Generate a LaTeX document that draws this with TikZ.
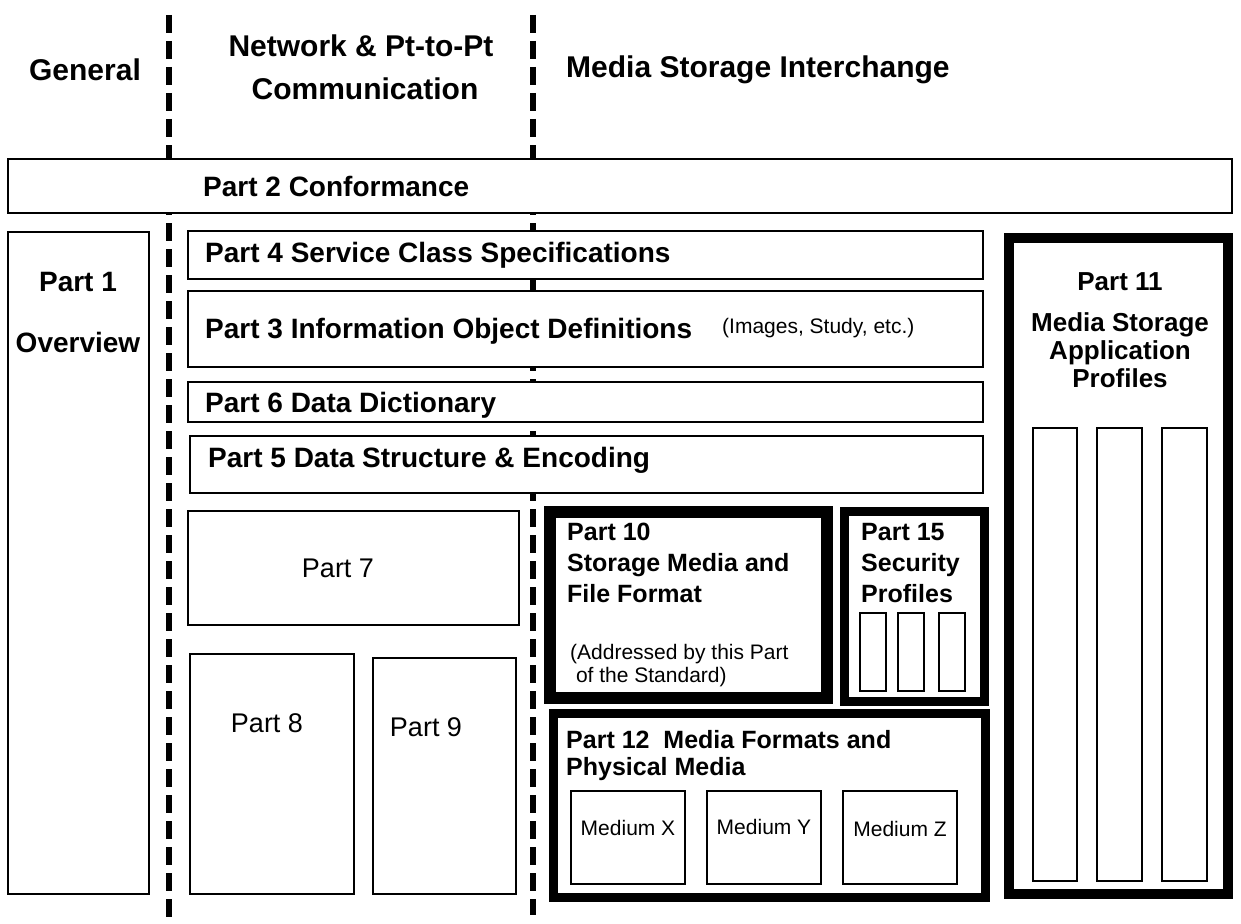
\documentclass[tikz,border=0pt]{standalone}
\usepackage{fontspec}
\setmainfont{Liberation Sans}
\begin{document}
\begin{tikzpicture}[x=1pt,y=-1pt,
  thinbox/.style={draw=black, fill=white, line width=1.6pt, inner sep=0pt, anchor=center},
  thickbox/.style={draw=black, fill=white, inner sep=0pt, anchor=center},
  divider/.style={line width=6pt, dash pattern=on 18pt off 8pt},
  hdr/.style={font=\bfseries\fontsize{30}{36}\selectfont, inner sep=0pt},
  lbl/.style={font=\bfseries\fontsize{28}{33}\selectfont, inner sep=0pt},
  plain/.style={font=\fontsize{27}{32}\selectfont, inner sep=0pt},
  small/.style={font=\fontsize{21}{23}\selectfont, inner sep=0pt}
]
\useasboundingbox (0,0) rectangle (1241,923);
\fill[white] (0,0) rectangle (1241,923);

% column dividers
\coordinate (d1t) at (169,15);
\coordinate (d1b) at (169,923);
\coordinate (d2t) at (533,15);
\coordinate (d2b) at (533,915);
\draw[divider] (d1t) -- (d1b);
\draw[divider] (d2t) -- (d2b);

% headers
\node[hdr] (hgen) at (85,70) {General};
\node[hdr] (hnet1) at (361,46) {Network \& Pt-to-Pt};
\node[hdr] (hnet2) at (365,89) {Communication};
\node[hdr, anchor=west] (hmed) at (566,70) {Media Storage Interchange};

% part 2
\node[thinbox, minimum width=1224, minimum height=54] (p2) at (620,186) {};
\node[lbl, anchor=west] (p2t) at (203,186) {Part 2 Conformance};

% part 1
\node[thinbox, minimum width=141, minimum height=662] (p1) at (78.5,563) {};
\node[lbl] (p1a) at (78,282) {Part 1};
\node[lbl] (p1b) at (78,342) {Overview};

% parts 4, 3, 6, 5
\node[thinbox, minimum width=795, minimum height=48] (p4) at (585.5,255) {};
\node[lbl, anchor=west] (p4t) at (205,255) {Part 4 Service Class Specifications};
\node[thinbox, minimum width=795, minimum height=76] (p3) at (585.5,329) {};
\node[lbl, anchor=west] (p3t) at (205,331) {Part 3 Information Object Definitions};
\node[small, anchor=west, font=\fontsize{21}{23}\selectfont] (p3s) at (722,328) {(Images, Study, etc.)};
\node[thinbox, minimum width=795, minimum height=40] (p6) at (585.5,402) {};
\node[lbl, anchor=west] (p6t) at (205,405) {Part 6 Data Dictionary};
\node[thinbox, minimum width=793, minimum height=57] (p5) at (586.5,464.5) {};
\node[lbl, anchor=west] (p5t) at (208,460) {Part 5 Data Structure \& Encoding};

% parts 7, 8, 9
\node[thinbox, minimum width=331, minimum height=114] (p7) at (353.5,568) {};
\node[plain] (p7t) at (338,568) {Part 7};
\node[thinbox, minimum width=164, minimum height=240] (p8) at (272,774) {};
\node[plain] (p8t) at (267,723) {Part 8};
\node[thinbox, minimum width=143, minimum height=236] (p9) at (444.5,776) {};
\node[plain] (p9t) at (426,727) {Part 9};

% part 10
\node[thickbox, line width=12pt, minimum width=277.5, minimum height=186] (p10) at (688.25,604.5) {};
\node[lbl, anchor=north west, align=left, font=\bfseries\fontsize{25}{31}\selectfont] (p10t) at (567,523) {Part 10\\Storage Media and\\File Format};
\node[small, anchor=north west, align=left] (p10s) at (570,644) {(Addressed by this Part\\\ of the Standard)};

% part 15
\node[thickbox, line width=9pt, minimum width=139.5, minimum height=189.5] (p15) at (914.25,606.25) {};
\node[lbl, anchor=north west, align=left, font=\bfseries\fontsize{25}{31}\selectfont] (p15t) at (861,523) {Part 15\\Security\\Profiles};
\node[thinbox, minimum width=26, minimum height=78] (s1) at (873,652) {};
\node[thinbox, minimum width=26, minimum height=78] (s2) at (911,652) {};
\node[thinbox, minimum width=26, minimum height=78] (s3) at (952,652) {};

% part 12
\node[thickbox, line width=9pt, minimum width=431.5, minimum height=183.5] (p12) at (769.25,805.25) {};
\node[lbl, anchor=north west, align=left, font=\bfseries\fontsize{25}{27}\selectfont] (p12t) at (566,730) {Part 12\ \ Media Formats and\\Physical Media};
\node[thinbox, minimum width=114, minimum height=93] (mx) at (628,837.5) {};
\node[small] (mxt) at (628,828) {Medium X};
\node[thinbox, minimum width=114, minimum height=93] (my) at (764,837.5) {};
\node[small] (myt) at (764,827) {Medium Y};
\node[thinbox, minimum width=114, minimum height=93] (mz) at (900,837.5) {};
\node[small] (mzt) at (900,829) {Medium Z};

% part 11
\node[thickbox, line width=10pt, minimum width=218.5, minimum height=656] (p11) at (1118.25,565.5) {};
\node[lbl, font=\bfseries\fontsize{26}{31}\selectfont] (p11a) at (1120,282) {Part 11};
\node[lbl, align=center, font=\bfseries\fontsize{26}{28}\selectfont] (p11b) at (1120,350) {Media Storage\\Application\\Profiles};
\node[thinbox, minimum width=44, minimum height=453] (a1) at (1055,654.5) {};
\node[thinbox, minimum width=45, minimum height=453] (a2) at (1119.5,654.5) {};
\node[thinbox, minimum width=45, minimum height=453] (a3) at (1184.5,654.5) {};
\end{tikzpicture}
\end{document}
